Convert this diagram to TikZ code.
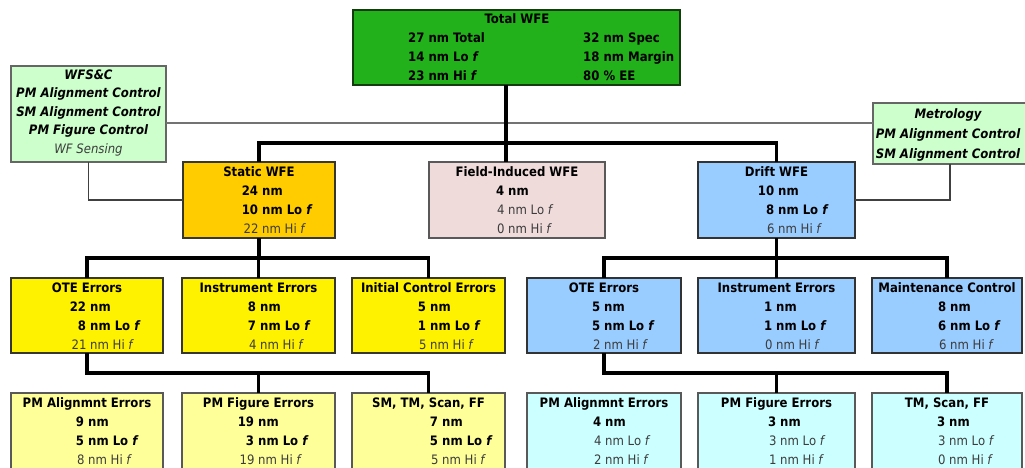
\documentclass[tikz,border=0pt]{standalone}
\usepackage{fontspec}
\setmainfont{DejaVu Sans Condensed}
\definecolor{cTot}{RGB}{34,177,26}
\definecolor{cTotB}{RGB}{20,60,15}
\definecolor{cLG}{RGB}{204,255,204}
\definecolor{cOr}{RGB}{255,204,0}
\definecolor{cPk}{RGB}{240,219,219}
\definecolor{cBl}{RGB}{153,204,255}
\definecolor{cYe}{RGB}{255,242,0}
\definecolor{cLY}{RGB}{255,255,153}
\definecolor{cCy}{RGB}{204,255,255}
\definecolor{cBd}{RGB}{55,55,45}
\definecolor{cTx}{RGB}{60,60,60}
\newcommand\bx[6]{\node[boxbase,#2, minimum width={(#5-#3)*1pt}, minimum height={(#6-#4)*1pt}] (#1) at ({(#3+#5)/2},{(#4+#6)/2}) {};}
\newcommand\ttl[4]{\node[ttlst] (#1) at (#2,#3) {#4};}
\newcommand\wl[6]{\node[#6] (#1) at (#2,#3) {\llap{#4\ }#5};}
\begin{document}
\begin{tikzpicture}[x=1pt,y=-1pt,
  font=\fontsize{13}{15}\selectfont,
  boxbase/.style={draw=cBd, line width=1.1pt, inner sep=0pt, outer sep=0pt},
  ttlst/.style={anchor=base, inner sep=0pt, font=\fontsize{13}{15}\selectfont\bfseries},
  bl/.style={anchor=base west, inner sep=0pt, font=\fontsize{13}{15}\selectfont\bfseries},
  rl/.style={anchor=base west, inner sep=0pt, text=cTx},
  conn/.style={line width=3.6pt, black},
  thinc/.style={line width=1.2pt, black!75},
  grayc/.style={line width=1.4pt, black!55},
  ctrl/.style={anchor=base, inner sep=0pt, font=\fontsize{13}{15}\selectfont\bfseries\itshape},
  ctrlr/.style={anchor=base, inner sep=0pt, font=\fontsize{13}{15}\selectfont\itshape, text=cTx},
]
\useasboundingbox (0,0) rectangle (1025,468);
\coordinate (gl) at (0,123);
\coordinate (bus1) at (506,143);
\coordinate (bus2) at (0,258);
\coordinate (bus3) at (0,373);

% gray cross line (behind)
\bx{wfs}{fill=cLG, draw=black!60}{11}{66}{166}{162}
\bx{metro}{fill=cLG, draw=black!60}{873}{103}{1027}{164}
\draw[grayc] (wfs.east |- gl) -- (metro.west |- gl);

% boxes
\bx{total}{fill=cTot, draw=cTotB}{353}{10}{680}{85}
\bx{static}{fill=cOr}{183}{162}{335}{238}
\bx{field}{fill=cPk, draw=black!65}{429}{162}{605}{238}
\bx{drift}{fill=cBl, draw=black!80}{698}{162}{855}{238}
\bx{oteL}{fill=cYe}{11}{278}{163}{353}
\bx{instL}{fill=cYe}{182}{278}{335}{353}
\bx{initL}{fill=cYe}{352}{278}{505}{353}
\bx{oteR}{fill=cBl, draw=black!80}{527}{278}{681}{353}
\bx{instR}{fill=cBl, draw=black!80}{698}{278}{855}{353}
\bx{maint}{fill=cBl, draw=black!80}{872}{278}{1022}{353}
\bx{pmaL}{fill=cLY, draw=black!65}{11}{393}{163}{472}
\bx{pmfL}{fill=cLY, draw=black!65}{182}{393}{335}{472}
\bx{smL}{fill=cLY, draw=black!65}{352}{393}{505}{472}
\bx{pmaR}{fill=cCy, draw=black!65}{527}{393}{681}{472}
\bx{pmfR}{fill=cCy, draw=black!65}{698}{393}{855}{472}
\bx{tmR}{fill=cCy, draw=black!65}{872}{393}{1022}{472}

% connectors
\draw[conn] (bus1 |- total.south) -- (bus1 |- field.north);
\draw[conn] (static.north) -- (static.north |- bus1) -- (drift.north |- bus1) -- (drift.north);
\draw[conn] (static.south) -- (static.south |- bus2);
\draw[conn] (oteL.north) -- (oteL.north |- bus2) -- (initL.north |- bus2) -- (initL.north);
\draw[conn] (instL.north) -- (instL.north |- bus2);
\draw[conn] (drift.south) -- (drift.south |- bus2);
\draw[conn] (oteR.north) -- (oteR.north |- bus2) -- (maint.north |- bus2) -- (maint.north);
\draw[conn] (instR.north) -- (instR.north |- bus2);
\draw[conn] (oteL.south) -- (oteL.south |- bus3) -- (smL.north |- bus3) -- (smL.north);
\draw[conn] (pmfL.north) -- (pmfL.north |- bus3);
\draw[conn] (oteR.south) -- (oteR.south |- bus3) -- (tmR.north |- bus3) -- (tmR.north);
\draw[conn] (pmfR.north) -- (pmfR.north |- bus3);
\draw[thinc] (wfs.south) |- (static.west);
\draw[thinc] (metro.south) |- (drift.east);

% Total WFE text
\ttl{totT}{517}{23.5}{Total WFE}
\node[bl] (tot1) at (408,42.5) {27 nm Total};
\node[bl] (tot2) at (408,61.5) {14 nm Lo \textit{f}};
\node[bl] (tot3) at (408,80.5) {23 nm Hi \textit{f}};
\node[bl] (tot4) at (583,42.5) {32 nm Spec};
\node[bl] (tot5) at (583,61.5) {18 nm Margin};
\node[bl] (tot6) at (583,80.5) {80 \% EE};

% WFS&C
\node[ctrl] (w1) at (88.5,79.5) {WFS\&C};
\node[ctrl] (w2) at (88.5,98) {PM Alignment Control};
\node[ctrl] (w3) at (88.5,116.5) {SM Alignment Control};
\node[ctrl] (w4) at (88.5,135) {PM Figure Control};
\node[ctrlr] (w5) at (88.5,153.5) {WF Sensing};
% Metrology
\node[ctrl] (m1) at (948,118.5) {Metrology};
\node[ctrl] (m2) at (948,138.5) {PM Alignment Control};
\node[ctrl] (m3) at (948,158.5) {SM Alignment Control};

% Static
\ttl{stT}{259}{176}{Static WFE}
\wl{st1}{262}{195}{24}{nm}{bl}
\wl{st2}{262}{214}{10}{nm Lo \textit{f}}{bl}
\wl{st3}{262}{233}{22}{nm Hi \textit{f}}{rl}
% Field
\ttl{fiT}{517}{176}{Field-Induced WFE}
\wl{fi1}{508}{195}{4}{nm}{bl}
\wl{fi2}{508}{214}{4}{nm Lo \textit{f}}{rl}
\wl{fi3}{508}{233}{0}{nm Hi \textit{f}}{rl}
% Drift
\ttl{drT}{776.5}{176}{Drift WFE}
\wl{dr1}{778}{195}{10}{nm}{bl}
\wl{dr2}{778}{214}{8}{nm Lo \textit{f}}{bl}
\wl{dr3}{778}{233}{6}{nm Hi \textit{f}}{rl}

% Row 3 left
\ttl{oLT}{87}{292}{OTE Errors}
\wl{oL1}{90}{311.5}{22}{nm}{bl}
\wl{oL2}{90}{330.5}{8}{nm Lo \textit{f}}{bl}
\wl{oL3}{90}{349.5}{21}{nm Hi \textit{f}}{rl}
\ttl{iLT}{258.5}{292}{Instrument Errors}
\wl{iL1}{260}{311.5}{8}{nm}{bl}
\wl{iL2}{260}{330.5}{7}{nm Lo \textit{f}}{bl}
\wl{iL3}{260}{349.5}{4}{nm Hi \textit{f}}{rl}
\ttl{cLT}{428.5}{292}{Initial Control Errors}
\wl{cL1}{430}{311.5}{5}{nm}{bl}
\wl{cL2}{430}{330.5}{1}{nm Lo \textit{f}}{bl}
\wl{cL3}{430}{349.5}{5}{nm Hi \textit{f}}{rl}
% Row 3 right
\ttl{oRT}{604}{292}{OTE Errors}
\wl{oR1}{604}{311.5}{5}{nm}{bl}
\wl{oR2}{604}{330.5}{5}{nm Lo \textit{f}}{bl}
\wl{oR3}{604}{349.5}{2}{nm Hi \textit{f}}{rl}
\ttl{iRT}{776.5}{292}{Instrument Errors}
\wl{iR1}{776}{311.5}{1}{nm}{bl}
\wl{iR2}{776}{330.5}{1}{nm Lo \textit{f}}{bl}
\wl{iR3}{776}{349.5}{0}{nm Hi \textit{f}}{rl}
\ttl{mRT}{947}{292}{Maintenance Control}
\wl{mR1}{950}{311.5}{8}{nm}{bl}
\wl{mR2}{950}{330.5}{6}{nm Lo \textit{f}}{bl}
\wl{mR3}{950}{349.5}{6}{nm Hi \textit{f}}{rl}

% Row 4 left
\ttl{aLT}{87}{407.5}{PM Alignmnt Errors}
\wl{aL1}{88}{426.5}{9}{nm}{bl}
\wl{aL2}{88}{445.5}{5}{nm Lo \textit{f}}{bl}
\wl{aL3}{88}{464.5}{8}{nm Hi \textit{f}}{rl}
\ttl{fLT}{258.5}{407.5}{PM Figure Errors}
\wl{fL1}{258}{426.5}{19}{nm}{bl}
\wl{fL2}{258}{445.5}{3}{nm Lo \textit{f}}{bl}
\wl{fL3}{258}{464.5}{19}{nm Hi \textit{f}}{rl}
\ttl{sLT}{428.5}{407.5}{SM, TM, Scan, FF}
\wl{sL1}{442}{426.5}{7}{nm}{bl}
\wl{sL2}{442}{445.5}{5}{nm Lo \textit{f}}{bl}
\wl{sL3}{442}{464.5}{5}{nm Hi \textit{f}}{rl}
% Row 4 right
\ttl{aRT}{604}{407.5}{PM Alignmnt Errors}
\wl{aR1}{605}{426.5}{4}{nm}{bl}
\wl{aR2}{605}{445.5}{4}{nm Lo \textit{f}}{rl}
\wl{aR3}{605}{464.5}{2}{nm Hi \textit{f}}{rl}
\ttl{fRT}{776.5}{407.5}{PM Figure Errors}
\wl{fR1}{780}{426.5}{3}{nm}{bl}
\wl{fR2}{780}{445.5}{3}{nm Lo \textit{f}}{rl}
\wl{fR3}{780}{464.5}{1}{nm Hi \textit{f}}{rl}
\ttl{tRT}{947}{407.5}{TM, Scan, FF}
\wl{tR1}{949}{426.5}{3}{nm}{bl}
\wl{tR2}{949}{445.5}{3}{nm Lo \textit{f}}{rl}
\wl{tR3}{949}{464.5}{0}{nm Hi \textit{f}}{rl}
\end{tikzpicture}
\end{document}
